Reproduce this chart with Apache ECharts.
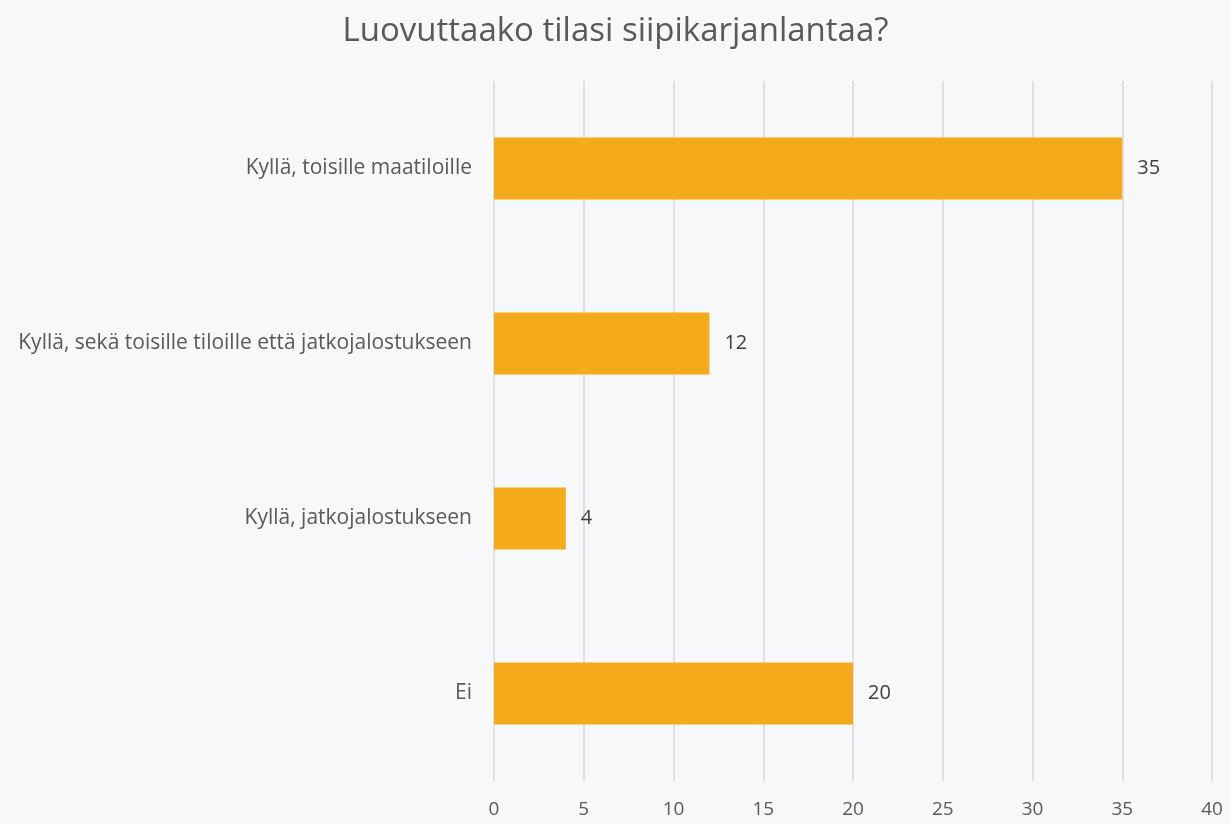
<!DOCTYPE html>
<html>
<head>
<meta charset="utf-8">
<script src="https://cdn.jsdelivr.net/npm/echarts@6/dist/echarts.min.js"></script>
<style>
  html, body { margin: 0; padding: 0; background: #f7f8fa; }
  #chart { width: 1231px; height: 824px; }
</style>
</head>
<body>
<div id="chart"></div>
<script>
const categories = [
  'Kyllä, toisille maatiloille',
  'Kyllä, sekä toisille tiloille että jatkojalostukseen',
  'Kyllä, jatkojalostukseen',
  'Ei'
]
const values = [35, 12, 4, 20]

const chart = echarts.init(document.getElementById('chart'))

const option = {
  backgroundColor: '#f7f8fa',
  textStyle: { fontFamily: 'Open Sans' },
  title: {
    text: 'Luovuttaako tilasi siipikarjanlantaa?',
    left: 'center',
    top: 10,
    textStyle: { fontSize: 33, fontWeight: 'normal', color: '#595959', fontFamily: 'Open Sans' }
  },
  grid: { left: 494, right: 19, top: 81, bottom: 43 },
  xAxis: {
    type: 'value',
    min: 0,
    max: 40,
    interval: 5,
    axisLine: { show: false },
    axisTick: { show: false },
    axisLabel: { color: '#595959', fontSize: 19, margin: 19 },
    splitLine: { lineStyle: { color: '#d9d9d9', width: 1.5 } }
  },
  yAxis: {
    type: 'category',
    data: categories,
    inverse: true,
    axisLine: { show: false },
    axisTick: { show: false },
    axisLabel: { color: '#595959', fontSize: 21, margin: 22 }
  },
  series: [
    {
      type: 'bar',
      data: values,
      barWidth: 62,
      itemStyle: { color: '#f5aa1c' },
      label: {
        show: true,
        position: 'right',
        distance: 15,
        color: '#404040',
        fontSize: 20
      }
    }
  ]
}

chart.setOption(option)
</script>
</body>
</html>
